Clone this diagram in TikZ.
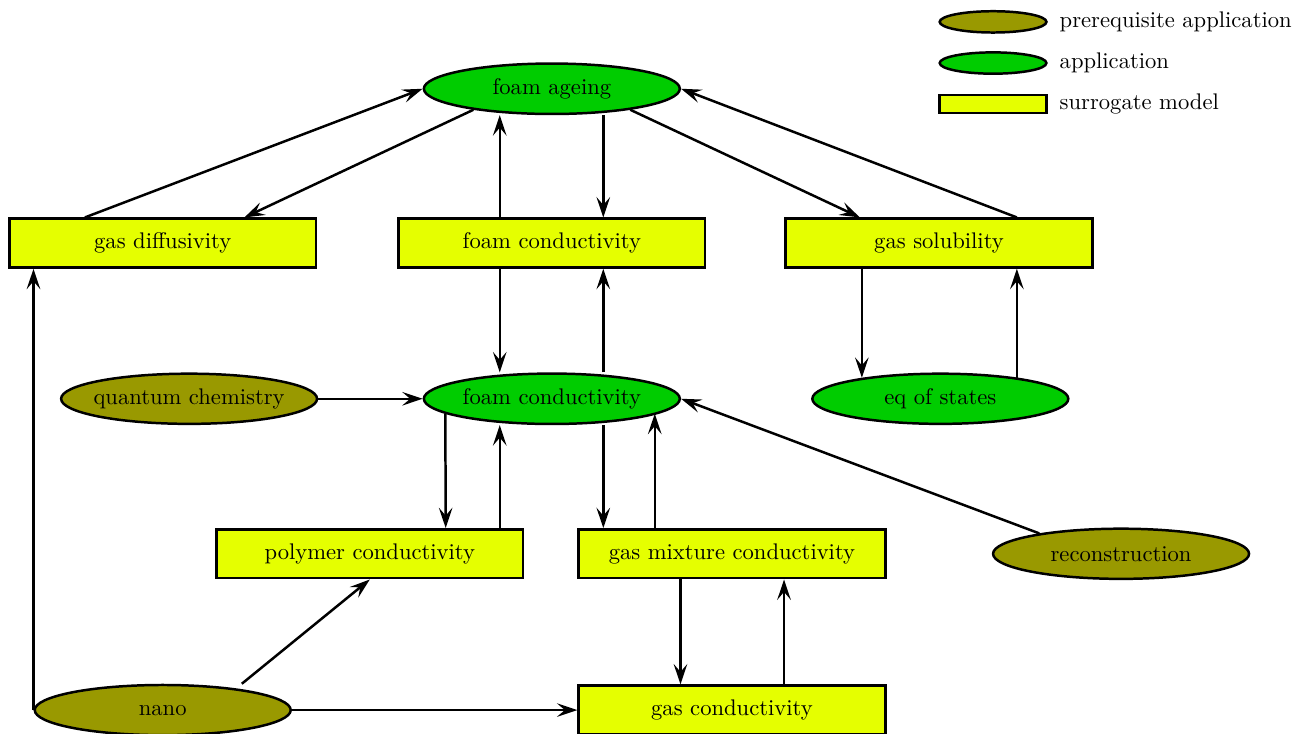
\documentclass[tikz,border=0pt]{standalone}
\usepackage{tikz}
\usetikzlibrary{calc}
\usetikzlibrary{arrows.meta}
\usetikzlibrary{shapes.geometric}

\definecolor{preapp}{RGB}{153,153,0}
\definecolor{app}{RGB}{0,204,0}
\definecolor{surr}{RGB}{229,255,0}

\begin{document}
\begin{tikzpicture} [line width=1.1pt,
  fixbox/.style={execute at begin node={\hbox to 0pt\bgroup\hss}, execute at end node={\hss\egroup}},
  preq/.style={ellipse, draw, fill=preapp, fixbox, minimum width=3.98cm, minimum height=0.78cm},
  appl/.style={ellipse, draw, fill=app, fixbox, minimum width=3.98cm, minimum height=0.78cm},
  surrogate/.style={rectangle, draw, fill=surr, minimum width=4.77cm, minimum height=0.76cm},
  arr/.style={-{Stealth[length=9pt, width=6pt, inset=3.5pt]}}]
\useasboundingbox (0,0) rectangle (20.29,-11.40);

% legend
\node[preq, minimum width=1.66cm, minimum height=0.28cm] (lpre) at (15.44,-0.34) {};
\node[appl, minimum width=1.66cm, minimum height=0.28cm] (lapp) at (15.44,-0.98) {};
\node[surrogate, minimum width=1.66cm, minimum height=0.28cm] (lsur) at (15.44,-1.62) {};
\node[anchor=west] (tpre) at (16.34,-0.34) {prerequisite application};
\node[anchor=west] (tapp) at (16.34,-0.98) {application};
\node[anchor=west] (tsur) at (16.34,-1.62) {surrogate model};

% nodes
\node[appl] (fage) at (8.58,-1.38) {foam ageing};
\node[surrogate] (gdif) at (2.53,-3.78) {gas diffusivity};
\node[surrogate] (fcr) at (8.58,-3.78) {foam conductivity};
\node[surrogate] (gsol) at (14.60,-3.78) {gas solubility};
\node[preq] (qchem) at (2.94,-6.20) {quantum chemistry};
\node[appl] (fcon) at (8.58,-6.20) {foam conductivity};
\node[appl] (eqs) at (14.62,-6.20) {eq of states};
\node[surrogate] (poly) at (5.75,-8.61) {polymer conductivity};
\node[surrogate] (gmix) at (11.38,-8.61) {gas mixture conductivity};
\node[preq] (recon) at (17.43,-8.61) {reconstruction};
\node[preq] (nano) at (2.53,-11.04) {nano};
\node[surrogate] (gcon) at (11.38,-11.04) {gas conductivity};

% foam ageing
\draw[arr] ([xshift=-1.21cm]gdif.north) -- (fage.west);
\draw[arr] (fage.195) -- ([xshift=1.27cm]gdif.north);
\draw[arr] ([xshift=-0.81cm]fcr.north) -- ([xshift=-0.81cm]fcr.north |- fage.south);
\draw[arr] ([xshift=0.8cm]fcr.north |- fage.south) -- ([xshift=0.8cm]fcr.north);
\draw[arr] (fage.345) -- ([xshift=-1.23cm]gsol.north);
\draw[arr] ([xshift=1.21cm]gsol.north) -- (fage.east);

% gas solubility
\draw[arr] ([xshift=-1.2cm]gsol.south) -- ([xshift=-1.2cm]gsol.south |- eqs.165);
\draw[arr] ([xshift=1.21cm]gsol.south |- eqs.15) -- ([xshift=1.21cm]gsol.south);

% foam conductivity
\draw[arr] ([xshift=-0.81cm]fcr.south) -- ([xshift=-0.81cm]fcr.south |- fcon.north);
\draw[arr] ([xshift=0.8cm]fcr.south |- fcon.north) -- ([xshift=0.8cm]fcr.south);
\draw[arr] (qchem.east) -- (fcon.west);
\draw[arr] (fcon.188) -- ([xshift=1.18cm]poly.north);
\draw[arr] ([xshift=2.02cm]poly.north) -- ([xshift=2.02cm]poly.north |- fcon.south);
\draw[arr] ([xshift=-2cm]gmix.north |- fcon.south) -- ([xshift=-2cm]gmix.north);
\draw[arr] ([xshift=-1.2cm]gmix.north) -- ([xshift=-1.2cm]gmix.north |- fcon.352);
\draw[arr] (recon.166) -- (fcon.east);

% gas conductivity
\draw[arr] ([xshift=-0.8cm]gmix.south) -- ([xshift=-0.8cm]gmix.south |- gcon.north);
\draw[arr] ([xshift=0.81cm]gcon.north) -- ([xshift=0.81cm]gcon.north |- gmix.south);

% nano
\draw[arr] ([xshift=1.23cm]nano.north) -- (poly.south);
\draw[arr] (nano.east) -- (gcon.west);
\draw[arr] (nano.west) -- (nano.west |- gdif.south);

\end{tikzpicture}
\end{document}
